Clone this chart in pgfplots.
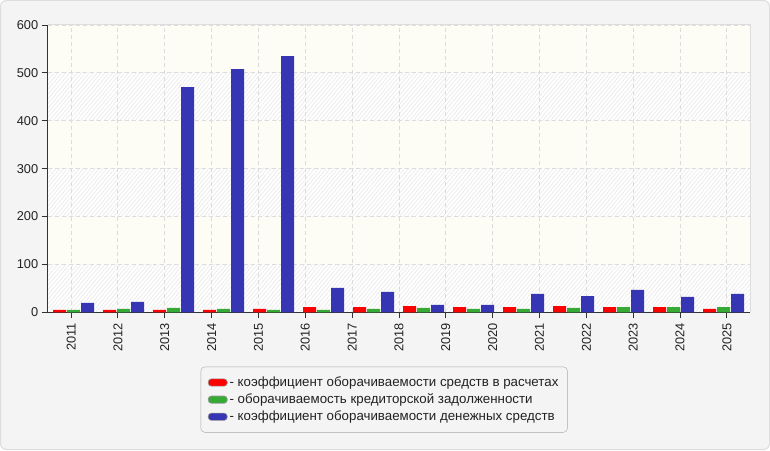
\documentclass[border=0pt]{standalone}
\usepackage{pgfplots}
\pgfplotsset{compat=1.18}
\usepackage{fontspec}
\setmainfont{Liberation Sans}
\usetikzlibrary{patterns.meta}
\definecolor{outerbg}{HTML}{F4F4F4}
\definecolor{framecol}{HTML}{DDDDDD}
\definecolor{plainband}{HTML}{FDFDF6}
\definecolor{hatchcol}{HTML}{EBEBEB}
\definecolor{gridcol}{HTML}{DCDCDC}
\definecolor{axiscol}{HTML}{333333}
\definecolor{textcol}{HTML}{222222}
\definecolor{legborder}{HTML}{AAAAAA}
\definecolor{swborder}{HTML}{999999}
\definecolor{redc}{HTML}{FF0000}
\definecolor{greenc}{HTML}{35AA35}
\definecolor{bluec}{HTML}{3636B4}
\begin{document}
\begin{tikzpicture}[x=1pt,y=1pt]
\path[use as bounding box] (0,0) rectangle (770,450);
\fill[outerbg, draw=framecol, line width=1pt, rounded corners=6pt] (0.5,0.5) rectangle (769.5,449.5);
% background bands
\fill[plainband] (47.7,185.58) rectangle (750.3,233.47);
\fill[plainband] (47.7,281.35) rectangle (750.3,329.23);
\fill[plainband] (47.7,377.12) rectangle (750.3,425);
\foreach \a/\b in {137.7/185.58, 233.47/281.35, 329.23/377.12} {
  \fill[white] (47.7,\a) rectangle (750.3,\b);
  \fill[pattern={Lines[angle=50,distance=3pt,line width=0.7pt]}, pattern color=hatchcol] (47.7,\a) rectangle (750.3,\b);
}
\draw[framecol, line width=1pt] (47.7,425) -- (750.3,425) -- (750.3,137.7);
\begin{axis}[
  at={(47.7pt,137.7pt)}, anchor=south west,
  scale only axis, width=702.6pt, height=287.3pt,
  xmin=-0.516, xmax=13.536, ymin=0, ymax=600,
  ytick={0,100,200,300,400,500,600},
  xtick={-0.048,0.889,1.826,2.762,3.699,4.636,5.573,6.510,7.446,8.383,9.320,10.257,11.194,12.130,13.067},
  xticklabels={2011,2012,2013,2014,2015,2016,2017,2018,2019,2020,2021,2022,2023,2024,2025},
  grid=major,
  major grid style={dash pattern=on 4pt off 3pt, gridcol, line width=1pt},
  axis x line=bottom, axis y line=left,
  axis line style={-, draw=axiscol, line width=1pt},
  tick align=outside, major tick length=6pt,
  tick style={axiscol, line width=1pt},
  /pgf/number format/assume math mode=true,
  ticklabel style={font=\fontsize{12.8}{14}\selectfont, text=textcol},
  xticklabel style={rotate=90, anchor=east, xshift=-1.5pt},
  ybar, bar width=0.26,
  legend style={at={(0.2178,-0.1893)}, anchor=north west,
    draw=legborder, fill=outerbg, rounded corners=4pt,
    font=\fontsize{13.3}{15}\selectfont, text=textcol,
    inner xsep=7pt, inner ysep=8pt, row sep=1.8pt},
  legend cell align=left,
  legend image code/.code={\filldraw[#1, draw=swborder, line width=0.6pt, rounded corners=3pt] (3pt,-3.6pt) rectangle (22pt,3.6pt);},
]
\addplot[fill=redc, draw=none, bar shift=-0.28] coordinates {
(0,5) (1,5) (2,5) (3,5) (4,7) (5,11) (6,11) (7,13) (8,11) (9,11) (10,13) (11,11) (12,11) (13,7)};
\addplot[fill=greenc, draw=none, bar shift=0] coordinates {
(0,5) (1,7) (2,9) (3,7) (4,5) (5,5) (6,7) (7,9) (8,7) (9,7) (10,9) (11,11) (12,11) (13,11)};
\addplot[fill=bluec, draw=none, bar shift=0.28] coordinates {
(0,19.5) (1,21.6) (2,470.5) (3,508) (4,535) (5,50.8) (6,42.4) (7,15.3) (8,15.3) (9,38.3) (10,34) (11,46.6) (12,32) (13,38.3)};
\legend{- коэффициент оборачиваемости средств в расчетах,
        - оборачиваемость кредиторской задолженности,
        - коэффициент оборачиваемости денежных средств}
\end{axis}
\end{tikzpicture}
\end{document}
